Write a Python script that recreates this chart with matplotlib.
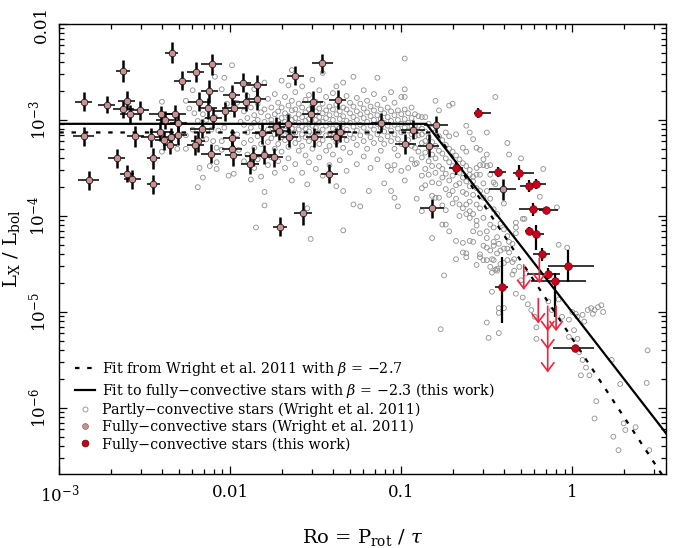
"""
Rotation-activity relation: L_X/L_bol against Rossby number,
partly- and fully-convective stars with the saturated/unsaturated fits.
"""
import numpy as np
import matplotlib
matplotlib.use("Agg")
import matplotlib.pyplot as plt
from matplotlib.lines import Line2D
from matplotlib.ticker import FixedLocator, NullFormatter

plt.rcParams["font.family"] = ["DejaVu Serif"]
plt.rcParams["mathtext.fontset"] = "dejavuserif"

# ---- fit parameters (Ro_sat, log Rx_sat, beta) ----
fit_w11 = (0.16, -3.13, -2.7)
fit_new = (0.14, -3.04, -2.3)

# ---- partly-convective stars (Wright et al. 2011): (log Ro, [log Lx/Lbol ...]) ----
grey_sat = [
    (-2.40, [-2.81, -3.33]), (-2.31, [-3.30]), (-2.26, [-2.80, -3.16, -3.30]),
    (-2.24, [-2.88]), (-2.22, [-2.69, -3.10]), (-2.21, [-2.93]),
    (-2.19, [-3.01, -3.70]), (-2.18, [-3.50]), (-2.16, [-2.94, -3.08, -3.60]),
    (-2.14, [-3.00, -3.20]), (-2.12, [-3.48]), (-2.11, [-3.10]), (-2.10, [-3.22]),
    (-2.09, [-2.55, -2.97]), (-2.08, [-3.29, -3.44, -3.51]), (-2.07, [-3.11]),
    (-2.05, [-2.68, -3.22, -3.31]), (-2.035, [-2.56, -3.08]), (-2.02, [-2.83]),
    (-2.01, [-3.58]), (-1.99, [-2.43]), (-1.98, [-3.56]), (-1.96, [-2.82, -3.15]),
    (-1.95, [-3.31]), (-1.94, [-3.02]),
    (-1.92, [-2.91, -3.05, -3.24, -3.43]),
    (-1.90, [-2.75, -2.98, -3.13, -3.36]),
    (-1.88, [-2.87, -3.08, -3.21, -3.62]),
    (-1.86, [-2.68, -2.95, -3.03, -3.29, -3.50]),
    (-1.85, [-4.12]),
    (-1.84, [-2.83, -3.00, -3.17, -3.41]),
    (-1.82, [-2.92, -3.07, -3.25, -3.59]),
    (-1.80, [-2.61, -2.89, -3.02, -3.14, -3.34, -3.75, -3.89]),
    (-1.78, [-2.78, -2.96, -3.10, -3.23, -3.47]),
    (-1.76, [-2.87, -3.00, -3.04, -3.19, -3.39]),
    (-1.74, [-2.73, -2.94, -3.08, -3.15, -3.30, -3.55]),
    (-1.72, [-2.82, -2.91, -3.01, -3.12, -3.25, -3.43]),
    (-1.70, [-2.59, -2.87, -2.98, -3.06, -3.18, -3.33]),
    (-1.68, [-2.76, -2.93, -3.02, -3.11, -3.21, -3.50]),
    (-1.66, [-2.64, -2.85, -2.96, -3.05, -3.14, -3.28, -3.40]),
    (-1.64, [-2.48, -2.80, -2.90, -3.00, -3.09, -3.17, -3.63]),
    (-1.62, [-2.71, -2.89, -2.98, -3.05, -3.13, -3.24, -3.46]),
    (-1.60, [-2.83, -2.94, -3.03, -3.10, -3.20, -3.32]),
    (-1.58, [-2.65, -2.87, -2.97, -3.07, -3.15, -3.27, -3.55]),
    (-1.56, [-2.79, -2.92, -3.01, -3.09, -3.18, -3.37]),
    (-1.55, [-3.67, -3.92]),
    (-1.54, [-2.74, -2.89, -2.99, -3.04, -3.12, -3.22, -3.44]),
    (-1.53, [-4.24]),
    (-1.52, [-2.58, -2.85, -2.95, -3.06, -3.16, -3.30]),
    (-1.50, [-2.81, -2.91, -3.00, -3.08, -3.19, -3.51]),
    (-1.48, [-2.69, -2.88, -2.97, -3.03, -3.13, -3.25, -3.39]),
    (-1.46, [-2.51, -2.83, -2.93, -3.02, -3.10, -3.21, -3.58]),
    (-1.44, [-2.76, -2.90, -2.98, -3.06, -3.16, -3.32]),
    (-1.42, [-2.86, -2.95, -3.04, -3.14, -3.27, -3.47]),
    (-1.40, [-2.72, -2.89, -3.00, -3.09, -3.18, -3.36]),
    (-1.38, [-2.65, -2.84, -2.94, -3.05, -3.12, -3.23, -3.69]),
    (-1.36, [-2.79, -2.91, -2.99, -3.08, -3.17, -3.42]),
    (-1.34, [-2.61, -2.87, -2.96, -3.04, -3.13, -3.29, -3.74, -4.15]),
    (-1.32, [-2.75, -2.89, -3.01, -3.10, -3.21, -3.53]),
    (-1.30, [-2.82, -2.93, -3.03, -3.15, -3.34]),
    (-1.28, [-2.55, -2.86, -2.97, -3.07, -3.19, -3.88]),
    (-1.26, [-2.77, -2.91, -3.00, -3.11, -3.26, -3.46]),
    (-1.24, [-2.83, -2.94, -3.05, -3.16, -3.90]),
    (-1.22, [-2.69, -2.88, -2.98, -3.08, -3.22, -3.38]),
    (-1.20, [-2.80, -2.92, -3.02, -3.13, -3.30]),
    (-1.19, [-3.74]),
    (-1.18, [-2.86, -2.96, -3.06, -3.18, -3.50]),
    (-1.16, [-2.73, -2.90, -3.00, -3.10, -3.24]),
    (-1.14, [-2.56, -2.84, -2.95, -3.04, -3.15, -3.41]),
    (-1.12, [-2.89, -2.99, -3.08, -3.20, -3.32]),
    (-1.10, [-2.78, -2.93, -3.03, -3.12, -3.25, -3.66]),
    (-1.08, [-2.87, -2.97, -3.06, -3.17, -3.48]),
    (-1.06, [-2.71, -2.91, -3.01, -3.11, -3.22, -3.52, -3.74]),
    (-1.04, [-2.82, -2.95, -3.05, -3.15, -3.30, -3.47, -3.81]),
    (-1.02, [-2.90, -3.00, -3.09, -3.20, -3.37, -3.90]),
    (-1.00, [-2.76, -2.94, -3.04, -3.13, -3.25, -3.53]),
]

grey_knee = [
    (-0.98, [-2.36, -2.68, -2.76, -2.89, -2.99, -3.08, -3.63]),
    (-0.96, [-2.93, -3.03, -3.11, -3.21, -3.50]),
    (-0.94, [-2.87, -2.98, -3.06, -3.15, -3.27, -3.41]),
    (-0.92, [-2.94, -3.06, -3.17, -3.29, -3.46]),
    (-0.91, [-3.45, -3.82]),
    (-0.90, [-2.96, -3.06, -3.16, -3.33]),
    (-0.88, [-2.97, -3.09, -3.15, -3.24, -3.39, -3.58, -3.71, -3.95]),
    (-0.86, [-2.97, -3.12, -3.22, -3.34, -3.51, -3.68]),
    (-0.84, [-3.04, -3.18, -3.29, -3.43, -3.57]),
    (-0.82, [-3.09, -3.23, -3.36, -3.48, -3.65, -3.79, -4.23]),
    (-0.80, [-2.80, -3.13, -3.27, -3.40, -3.55, -3.81]),
    (-0.78, [-2.90, -3.17, -3.32, -3.48, -3.66, -3.81]),
    (-0.77, [-5.18]),
    (-0.76, [-3.21, -3.35, -3.51, -3.60, -3.89, -4.09]),
    (-0.75, [-4.62]),
    (-0.74, [-3.13, -3.26, -3.40, -3.56, -3.72, -3.94, -4.09]),
    (-0.72, [-2.85, -3.17, -3.30, -3.44, -3.63, -3.78, -4.16]),
    (-0.70, [-2.83, -3.33, -3.48, -3.58, -3.74, -3.87]),
    (-0.68, [-3.15, -3.37, -3.52, -3.68, -3.82, -4.26, -4.45]),
    (-0.66, [-3.41, -3.55, -3.66, -3.88, -4.00]),
    (-0.64, [-3.29, -3.45, -3.60, -3.75, -3.92, -4.28, -4.38]),
    (-0.62, [-3.06, -3.33, -3.48, -3.64, -3.77, -3.88, -3.98, -4.39, -4.43]),
    (-0.60, [-3.13, -3.52, -3.57, -3.69, -3.85, -3.95, -4.02, -4.26]),
]

grey_unsat = [
    (-0.58, [-3.20, -3.59, -3.64, -3.78, -3.98, -4.16, -4.27]),
    (-0.56, [-3.29, -3.50, -3.57, -3.71, -3.88, -4.05, -4.10, -4.51]),
    (-0.54, [-3.31, -3.47, -3.57, -3.74, -3.92, -4.18, -4.40, -4.43]),
    (-0.52, [-3.41, -3.47, -3.66, -3.81, -4.02, -4.31, -4.46]),
    (-0.50, [-3.13, -3.36, -3.48, -3.74, -3.90, -4.16, -4.23, -4.33, -4.46, -5.11]),
    (-0.49, [-5.27]),
    (-0.48, [-3.47, -3.57, -3.82, -4.09, -4.36, -4.53]),
    (-0.47, [-4.45, -4.59, -4.79]),
    (-0.46, [-3.65, -3.93, -4.12, -4.27, -4.31, -4.46]),
    (-0.45, [-2.76, -3.67, -4.56]),
    (-0.44, [-3.98, -4.22, -4.39, -4.55, -4.57]),
    (-0.43, [-4.29, -4.96, -5.01, -5.22]),
    (-0.42, [-4.08, -4.36, -4.50]),
    (-0.40, [-3.87, -4.14, -4.34, -4.49, -4.96]),
    (-0.38, [-3.24, -4.21, -4.34, -4.46]),
    (-0.37, [-3.36, -4.27, -4.38]),
    (-0.35, [-4.29, -4.48, -4.61]),
    (-0.34, [-4.45, -4.57]),
    (-0.33, [-4.07, -4.12, -4.18, -4.81]),
    (-0.31, [-4.53]),
    (-0.30, [-3.40, -4.67]),
    (-0.29, [-4.03, -4.85]),
    (-0.28, [-4.03]),
    (-0.27, [-4.60]),
    (-0.26, [-4.92]),
    (-0.24, [-4.98]),
    (-0.22, [-5.05]),
    (-0.21, [-5.16, -5.28]),
    (-0.19, [-3.80]),
    (-0.17, [-3.51]),
    (-0.14, [-4.89]),
    (-0.12, [-4.98]),
    (-0.09, [-3.91]),
    (-0.08, [-4.30, -4.87]),
    (-0.06, [-5.05]),
    (-0.03, [-4.33]),
    (-0.02, [-5.08, -5.26]),
    (0.00, [-5.00]),
    (0.01, [-5.19]),
    (0.02, [-5.02]),
    (0.03, [-5.05, -5.28]),
    (0.04, [-5.42]),
    (0.05, [-5.66]),
    (0.06, [-5.03, -5.50]),
    (0.07, [-5.10]),
    (0.08, [-5.58]),
    (0.09, [-4.98]),
    (0.10, [-5.66]),
    (0.11, [-4.96]),
    (0.12, [-5.02]),
    (0.13, [-4.98, -6.11]),
    (0.14, [-5.93]),
    (0.15, [-4.95]),
    (0.17, [-4.93]),
    (0.18, [-5.00]),
    (0.23, [-5.50]),
    (0.24, [-6.30]),
    (0.27, [-6.44]),
    (0.28, [-5.75]),
    (0.30, [-6.16]),
    (0.31, [-6.23]),
    (0.37, [-6.20]),
    (0.435, [-5.74]),
    (0.44, [-5.40]),
    (0.45, [-6.44]),
]

# ---- fully-convective stars (Wright et al. 2011): log Ro, log Lx/Lbol, err (dex) ----
pink = [
    (-2.858, -2.81, 0.05, 0.10), (-2.858, -3.17, 0.06, 0.10), (-2.829, -3.63, 0.06, 0.10),
    (-2.723, -2.84, 0.05, 0.09), (-2.665, -3.40, 0.05, 0.10), (-2.626, -2.49, 0.04, 0.11),
    (-2.606, -2.80, 0.05, 0.10), (-2.626, -2.89, 0.06, 0.09), (-2.587, -2.94, 0.06, 0.10),
    (-2.606, -3.56, 0.04, 0.09), (-2.573, -3.62, 0.05, 0.10), (-2.557, -3.17, 0.05, 0.11),
    (-2.528, -2.90, 0.05, 0.10), (-2.343, -2.30, 0.04, 0.11), (-2.464, -3.18, 0.06, 0.10),
    (-2.450, -3.40, 0.04, 0.11), (-2.450, -3.67, 0.04, 0.10), (-2.405, -2.94, 0.07, 0.09),
    (-2.382, -3.00, 0.05, 0.09), (-2.409, -3.12, 0.06, 0.10), (-2.390, -3.21, 0.05, 0.10),
    (-2.347, -3.18, 0.05, 0.10), (-2.351, -3.26, 0.04, 0.09), (-2.322, -2.94, 0.06, 0.10),
    (-2.304, -3.03, 0.05, 0.10), (-2.304, -3.16, 0.05, 0.10), (-2.281, -2.59, 0.05, 0.10),
    (-2.203, -2.50, 0.05, 0.10), (-2.109, -2.42, 0.06, 0.11), (-2.123, -2.70, 0.05, 0.12),
    (-2.185, -2.81, 0.06, 0.10), (-2.129, -2.88, 0.05, 0.11), (-2.100, -2.98, 0.05, 0.10),
    (-2.166, -3.09, 0.07, 0.10), (-2.187, -3.22, 0.04, 0.11), (-2.205, -3.26, 0.05, 0.10),
    (-2.113, -3.35, 0.06, 0.10), (-2.033, -2.91, 0.06, 0.10), (-1.992, -2.74, 0.05, 0.10),
    (-1.977, -2.88, 0.07, 0.09), (-1.992, -3.19, 0.05, 0.10), (-1.990, -3.30, 0.06, 0.09),
    (-1.982, -3.37, 0.05, 0.11), (-1.928, -2.61, 0.05, 0.10), (-1.844, -2.64, 0.06, 0.11),
    (-1.844, -2.78, 0.05, 0.12), (-1.908, -2.81, 0.06, 0.10), (-1.815, -3.14, 0.06, 0.11),
    (-1.865, -3.38, 0.05, 0.10), (-1.885, -3.46, 0.05, 0.10), (-1.801, -3.36, 0.06, 0.10),
    (-1.743, -3.39, 0.05, 0.10), (-1.730, -3.07, 0.05, 0.10), (-1.665, -3.04, 0.06, 0.10),
    (-1.655, -3.18, 0.05, 0.10), (-1.708, -4.11, 0.04, 0.10), (-1.620, -2.54, 0.05, 0.10),
    (-1.575, -3.97, 0.05, 0.12), (-1.528, -2.94, 0.05, 0.10), (-1.518, -2.81, 0.06, 0.11),
    (-1.509, -3.18, 0.05, 0.10), (-1.462, -2.41, 0.06, 0.10), (-1.420, -3.56, 0.05, 0.10),
    (-1.380, -3.18, 0.06, 0.10), (-1.373, -2.79, 0.05, 0.10), (-1.713, -3.11, 0.05, 0.10),
    (-1.357, -3.13, 0.06, 0.10), (-1.120, -3.03, 0.06, 0.10), (-0.934, -3.10, 0.07, 0.10),
    (-0.977, -3.25, 0.06, 0.10), (-0.797, -3.05, 0.07, 0.09), (-0.840, -3.27, 0.06, 0.12),
    (-0.407, -3.72, 0.08, 0.11), (-0.823, -3.92, 0.07, 0.10),
]

# ---- fully-convective stars (this work): log Ro, log Lx/Lbol, xlo, xhi, ylo, yhi (dex) ----
red = [
    (-0.554, -2.93, 0.02, 0.08, 0.05, 0.05),
    (-0.680, -3.50, 0.04, 0.04, 0.07, 0.07),
    (-0.437, -3.54, 0.05, 0.05, 0.05, 0.05),
    (-0.314, -3.55, 0.03, 0.09, 0.08, 0.08),
    (-0.256, -3.69, 0.05, 0.05, 0.06, 0.06),
    (-0.213, -3.67, 0.06, 0.06, 0.05, 0.05),
    (-0.232, -3.93, 0.08, 0.08, 0.07, 0.07),
    (-0.154, -3.94, 0.04, 0.07, 0.03, 0.03),
    (-0.256, -4.16, 0.02, 0.02, 0.04, 0.04),
    (-0.213, -4.19, 0.03, 0.05, 0.16, 0.10),
    (-0.178, -4.40, 0.05, 0.05, 0.07, 0.07),
    (-0.144, -4.60, 0.12, 0.07, 0.06, 0.06),
    (-0.100, -4.68, 0.14, 0.18, 0.37, 0.09),
    (-0.025, -4.52, 0.12, 0.15, 0.17, 0.17),
    (-0.414, -4.74, 0.04, 0.04, 0.37, 0.31),
    (0.016, -5.38, 0.13, 0.11, 0.03, 0.03),
]

# upper limits (this work): log Ro, log Lx/Lbol
lim_logro = [-0.284, -0.193, -0.199, -0.144, -0.095, -0.144, -0.144]
lim_loglx = [-4.51, -4.44, -4.86, -4.94, -4.94, -5.13, -5.37]

xtick_vals = [1e-3, 1e-2, 1e-1, 1]
xtick_labels = ["10$^{-3}$", "0.01", "0.1", "1"]
ytick_vals = [1e-6, 1e-5, 1e-4, 1e-3, 1e-2]
ytick_labels = ["10$^{-6}$", "10$^{-5}$", "10$^{-4}$", "10$^{-3}$", "0.01"]

XLIM = (1e-3, 3.53)
YLIM = (2.05e-7, 1e-2)

PINK = "#c99191"
RED = "#c8001c"
LIMIT = "#f5203a"
GREY = "#8e8e8e"


def expand(columns):
    xs, ys = [], []
    for x, yl in columns:
        for y in yl:
            xs.append(x)
            ys.append(y)
    return 10 ** np.array(xs), 10 ** np.array(ys)


def log_err(v, lo, hi):
    return [v - v * 10 ** -np.asarray(lo), v * 10 ** np.asarray(hi) - v]


def fit_line(ro_sat, log_sat, beta):
    ro = np.array([XLIM[0], ro_sat, 10.0])
    lx = 10 ** log_sat * np.where(ro > ro_sat, (ro / ro_sat) ** beta, 1.0)
    return ro, lx


fig = plt.figure(figsize=(6.76, 5.48), dpi=100)
ax = fig.add_axes([59.3 / 676, 1 - 474 / 548, (666 - 59.3) / 676, 450 / 548])
ax.set_xscale("log")
ax.set_yscale("log")

# partly-convective
for cols in (grey_sat, grey_knee, grey_unsat):
    gx, gy = expand(cols)
    ax.scatter(gx, gy, s=12, facecolors="none", edgecolors=GREY,
               linewidths=0.6, zorder=1)

# fits
rx, ry = fit_line(*fit_w11)
ax.plot(rx, ry, color="k", lw=1.6, ls=(0, (2, 3.5)), zorder=2)
rx, ry = fit_line(*fit_new)
ax.plot(rx, ry, color="k", lw=1.6, zorder=2)

# fully-convective (Wright 2011)
px = 10 ** np.array([p[0] for p in pink])
py = 10 ** np.array([p[1] for p in pink])
pxe = np.array([p[2] for p in pink])
pye = np.array([p[3] for p in pink])
ax.errorbar(px, py, xerr=log_err(px, pxe, pxe), fmt="none", ecolor="k",
            elinewidth=1.1, capsize=0, zorder=3)
ax.errorbar(px, py, yerr=log_err(py, pye, pye), fmt="none", ecolor="k",
            elinewidth=1.8, capsize=0, zorder=3)
ax.plot(px, py, "o", ms=4.8, mfc=PINK, mec="k", mew=0.5, ls="none", zorder=4)

# fully-convective (this work)
qx = 10 ** np.array([r[0] for r in red])
qy = 10 ** np.array([r[1] for r in red])
ax.errorbar(qx, qy, xerr=log_err(qx, [r[2] for r in red], [r[3] for r in red]),
            fmt="none", ecolor="k", elinewidth=1.1, capsize=0, zorder=3)
ax.errorbar(qx, qy, yerr=log_err(qy, [r[4] for r in red], [r[5] for r in red]),
            fmt="none", ecolor="k", elinewidth=1.6, capsize=0, zorder=3)
ax.plot(qx, qy, "o", ms=5.6, mfc=RED, mec="#5a0000", mew=0.4, ls="none", zorder=4)

# upper limits
for lr, ll in zip(lim_logro, lim_loglx):
    top = 10 ** ll
    ax.annotate("", xy=(10 ** lr, top / 10 ** 0.26), xytext=(10 ** lr, top),
                arrowprops=dict(arrowstyle="->,head_length=0.6,head_width=0.45",
                                color=LIMIT, lw=1.2, shrinkA=0, shrinkB=0,
                                mutation_scale=10),
                zorder=5)

ax.set_xlim(*XLIM)
ax.set_ylim(*YLIM)

ax.xaxis.set_major_locator(FixedLocator(xtick_vals))
ax.set_xticklabels(xtick_labels, fontsize=12)
ax.yaxis.set_major_locator(FixedLocator(ytick_vals))
ax.set_yticklabels(ytick_labels, fontsize=12, rotation=90, va="center")
xminor = [m * 10.0 ** d for d in range(-3, 1) for m in range(2, 10)]
yminor = [m * 10.0 ** d for d in range(-7, -2) for m in range(2, 10)]
ax.xaxis.set_minor_locator(FixedLocator(xminor))
ax.yaxis.set_minor_locator(FixedLocator(yminor))
ax.xaxis.set_minor_formatter(NullFormatter())
ax.yaxis.set_minor_formatter(NullFormatter())
ax.tick_params(which="both", direction="in", top=True, right=True, width=0.9)
ax.tick_params(which="major", length=6, pad=7)
ax.tick_params(which="minor", length=3.5)
for s in ax.spines.values():
    s.set_linewidth(1.0)

ax.set_xlabel(r"Ro = P$_{\mathregular{rot}}$ / $\tau$", fontsize=14)
ax.xaxis.set_label_coords(0.5, -0.118)
ax.set_ylabel(r"L$_{\mathregular{X}}$ / L$_{\mathregular{bol}}$", fontsize=14)
ax.yaxis.set_label_coords(-0.062, 0.5)

handles = [
    Line2D([], [], color="k", lw=1.6, ls=(0, (2, 3.5))),
    Line2D([], [], color="k", lw=1.6),
    Line2D([], [], marker="o", ls="none", ms=3.6, mfc="none", mec=GREY, mew=0.6),
    Line2D([], [], marker="o", ls="none", ms=4.2, mfc=PINK, mec="#555555", mew=0.4),
    Line2D([], [], marker="o", ls="none", ms=5.0, mfc=RED, mec="#5a0000", mew=0.4),
]
labels = [
    r"Fit from Wright et al. 2011 with $\beta$ = −2.7",
    r"Fit to fully−convective stars with $\beta$ = −2.3 (this work)",
    "Partly−convective stars (Wright et al. 2011)",
    "Fully−convective stars (Wright et al. 2011)",
    "Fully−convective stars (this work)",
]
ax.legend(handles, labels, loc="lower left", bbox_to_anchor=(0.026, 0.05),
          frameon=False, fontsize=10.3, handlelength=1.4, handletextpad=0.5,
          labelspacing=0.2, borderpad=0, borderaxespad=0)

fig.savefig("out.png", dpi=100)
